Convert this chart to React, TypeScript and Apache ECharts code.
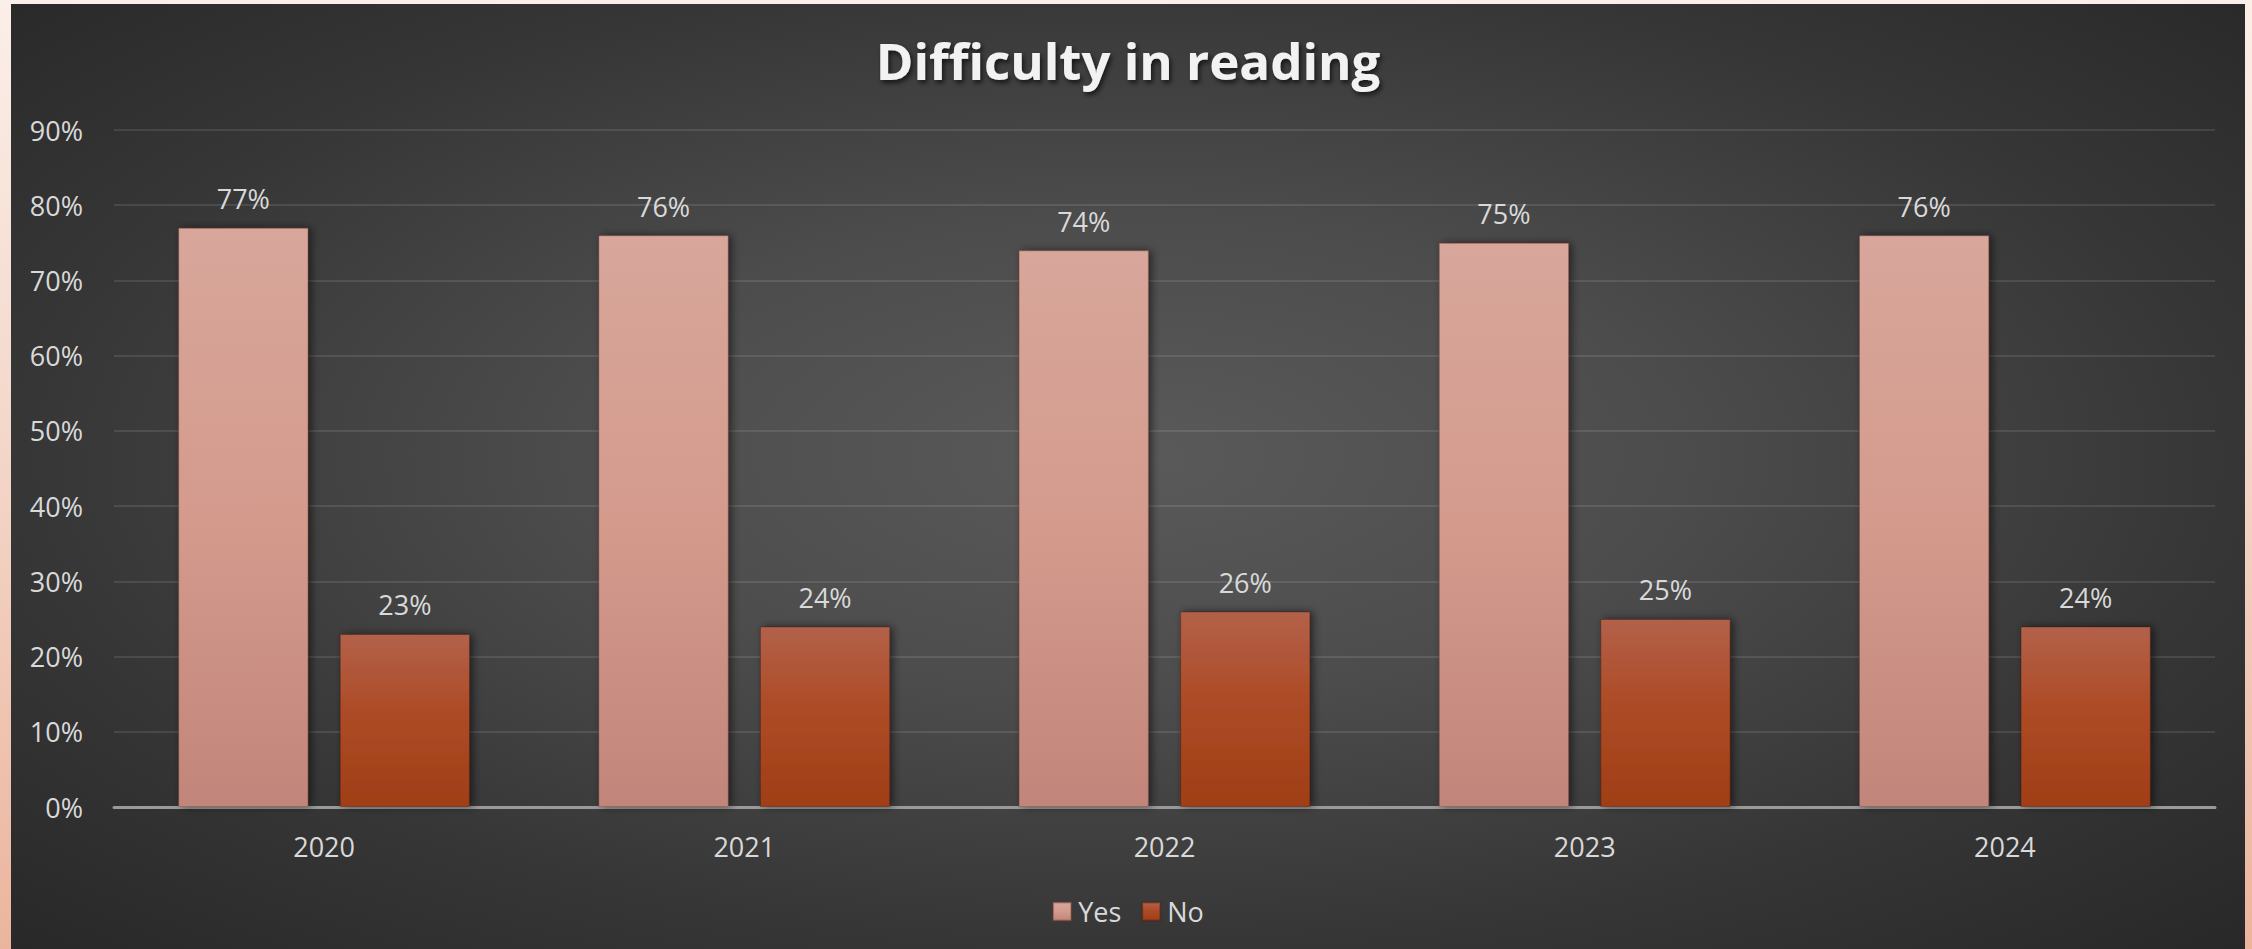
import React, { useEffect, useRef } from "react";
import * as echarts from "echarts";

const categories = ["2020", "2021", "2022", "2023", "2024"];
const yesValues = [77, 76, 74, 75, 76];
const noValues = [23, 24, 26, 25, 24];
const seriesNames = ["Yes", "No"];
const titleText = "Difficulty in reading";

const FONT = "'Open Sans', 'Noto Sans', sans-serif";
const LABEL_COLOR = "#d9d9d9";

export default function App() {
  const ref = useRef<HTMLDivElement>(null);

  useEffect(() => {
    document.body.style.margin = "0";
    if (!ref.current) return;
    const chart = echarts.init(ref.current, undefined, { renderer: "svg" });

    const yesColor = new echarts.graphic.LinearGradient(0, 0, 0, 1, [
      { offset: 0, color: "#d8a69b" },
      { offset: 0.5, color: "#d49b8d" },
      { offset: 1, color: "#c2857a" },
    ]);
    const noColor = new echarts.graphic.LinearGradient(0, 0, 0, 1, [
      { offset: 0, color: "#b3614a" },
      { offset: 0.45, color: "#ad4b26" },
      { offset: 1, color: "#a03e17" },
    ]);

    const labelCfg = {
      show: true,
      position: "top" as const,
      distance: 14,
      formatter: "{c}%",
      color: LABEL_COLOR,
      fontSize: 27,
      fontFamily: FONT,
      lineHeight: 30,
    };

    chart.setOption({
      animation: false,
      backgroundColor: "transparent",
      title: {
        text: titleText,
        left: "center",
        top: 30,
        padding: 0,
        textStyle: {
          color: "#f2f2f2",
          fontSize: 51,
          fontWeight: "bold",
          fontFamily: FONT,
          lineHeight: 52,
          textShadowColor: "rgba(0,0,0,0.65)",
          textShadowBlur: 5,
          textShadowOffsetX: 2,
          textShadowOffsetY: 3,
        },
      },
      legend: {
        data: seriesNames,
        left: "center",
        top: 894,
        icon: "rect",
        itemWidth: 18,
        itemHeight: 18,
        itemGap: 20,
        padding: 0,
        textStyle: {
          color: LABEL_COLOR,
          fontSize: 27,
          fontFamily: FONT,
          padding: [0, 0, 0, 2],
        },
      },
      grid: {
        left: 103,
        right: 30,
        top: 126,
        bottom: 142,
        containLabel: false,
      },
      xAxis: {
        type: "category",
        data: categories,
        axisLine: { show: true, lineStyle: { color: "#9a9a9a", width: 3 } },
        axisTick: { show: false },
        axisLabel: {
          color: LABEL_COLOR,
          fontSize: 27,
          fontFamily: FONT,
          margin: 26,
        },
      },
      yAxis: {
        type: "value",
        min: 0,
        max: 90,
        interval: 10,
        axisLine: { show: false },
        axisTick: { show: false },
        splitLine: { lineStyle: { color: "rgba(255,255,255,0.1)", width: 2 } },
        axisLabel: {
          formatter: "{value}%",
          color: LABEL_COLOR,
          fontSize: 27,
          fontFamily: FONT,
          margin: 31,
        },
      },
      series: [
        {
          name: seriesNames[0],
          type: "bar",
          data: yesValues,
          barWidth: "31%",
          barGap: "24%",
          itemStyle: {
            color: yesColor,
            borderColor: "rgba(120,60,50,0.35)",
            borderWidth: 1,
            shadowColor: "rgba(0,0,0,0.55)",
            shadowBlur: 8,
            shadowOffsetX: 3,
            shadowOffsetY: 0,
          },
          label: labelCfg,
        },
        {
          name: seriesNames[1],
          type: "bar",
          data: noValues,
          barWidth: "31%",
          barGap: "24%",
          itemStyle: {
            color: noColor,
            borderColor: "rgba(60,20,10,0.35)",
            borderWidth: 1,
            shadowColor: "rgba(0,0,0,0.55)",
            shadowBlur: 8,
            shadowOffsetX: 3,
            shadowOffsetY: 0,
          },
          label: labelCfg,
        },
      ],
    });

    return () => chart.dispose();
  }, []);

  return (
    <div
      style={{
        position: "fixed",
        left: 0,
        top: 0,
        width: 2252,
        height: 949,
        background: "linear-gradient(to bottom, #fbefe9 0%, #f3d5c7 50%, #ebb59d 100%)",
        overflow: "hidden",
      }}
    >
      <div
        style={{
          position: "absolute",
          left: 11,
          top: 4,
          width: 2234,
          height: 945,
          background:
            "radial-gradient(ellipse at 50% 48%, #5a5a5a 0%, #4c4c4c 35%, #363636 70%, #282828 100%)",
        }}
      >
        <div ref={ref} style={{ width: 2234, height: 945 }} />
      </div>
    </div>
  );
}
